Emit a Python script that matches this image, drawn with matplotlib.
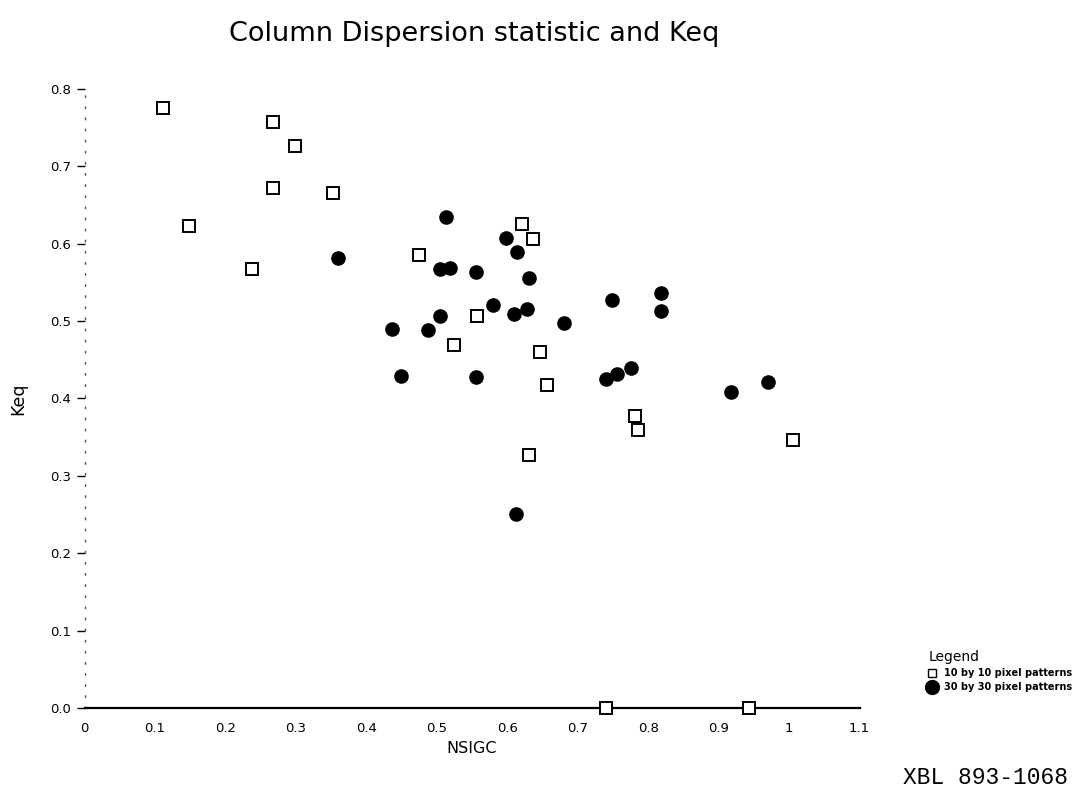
import matplotlib
matplotlib.use("Agg")
import matplotlib.pyplot as plt
from matplotlib.lines import Line2D

plt.rcParams['font.family'] = ['DejaVu Sans']

# === DATA ===
# 10 by 10 pixel patterns (hollow squares)
sq_x = [0.112, 0.268, 0.298, 0.268, 0.352, 0.148, 0.238, 0.474, 0.621, 0.636,
        0.557, 0.525, 0.647, 0.657, 0.781, 0.786, 0.631, 1.005, 0.740, 0.943]
sq_y = [0.775, 0.757, 0.726, 0.672, 0.665, 0.623, 0.567, 0.585, 0.625, 0.606,
        0.506, 0.469, 0.460, 0.417, 0.378, 0.359, 0.327, 0.346, 0.0, 0.0]

# 30 by 30 pixel patterns (filled circles)
dot_x = [0.359, 0.513, 0.598, 0.614, 0.631, 0.505, 0.519, 0.556, 0.579, 0.504,
         0.437, 0.487, 0.449, 0.555, 0.610, 0.628, 0.680, 0.748, 0.818, 0.818,
         0.740, 0.756, 0.776, 0.918, 0.970, 0.613]
dot_y = [0.581, 0.634, 0.607, 0.589, 0.556, 0.567, 0.568, 0.563, 0.521, 0.506,
         0.490, 0.488, 0.429, 0.428, 0.509, 0.515, 0.497, 0.527, 0.536, 0.513,
         0.425, 0.432, 0.440, 0.408, 0.421, 0.251]

x_ticks = [0, 0.1, 0.2, 0.3, 0.4, 0.5, 0.6, 0.7, 0.8, 0.9, 1.0, 1.1]
x_labels = ["0", "0.1", "0.2", "0.3", "0.4", "0.5", "0.6", "0.7", "0.8", "0.9", "1", "1.1"]
y_ticks = [0.0, 0.1, 0.2, 0.3, 0.4, 0.5, 0.6, 0.7, 0.8]
y_labels = ["0.0", "0.1", "0.2", "0.3", "0.4", "0.5", "0.6", "0.7", "0.8"]

# === PLOT ===
fig = plt.figure(figsize=(10.84, 7.93), dpi=100)
ax = fig.add_axes([0.078, 0.107, 0.715, 0.781])

ax.plot(sq_x, sq_y, linestyle="none", marker="s", markersize=9,
        markerfacecolor="white", markeredgecolor="black", markeredgewidth=1.4,
        clip_on=False, zorder=3)
ax.plot(dot_x, dot_y, linestyle="none", marker="o", markersize=9.5,
        color="black", clip_on=False, zorder=3)

ax.set_xlim(0, 1.1)
ax.set_ylim(0, 0.8)

ax.spines["top"].set_visible(False)
ax.spines["right"].set_visible(False)
ax.spines["left"].set_linestyle((0, (1, 7)))
ax.spines["left"].set_linewidth(1.0)
ax.spines["left"].set_color("#555555")
ax.spines["bottom"].set_linewidth(1.6)

ax.set_xticks(x_ticks)
ax.set_xticklabels(x_labels)
ax.set_yticks(y_ticks)
ax.set_yticklabels(y_labels)
ax.tick_params(axis="x", length=0, pad=10, labelsize=9.5)
ax.tick_params(axis="y", length=6, width=1, direction="out", pad=4, labelsize=9.5)

ax.set_xlabel("NSIGC", fontsize=11.5, labelpad=4)
ax.set_ylabel("Keq", fontsize=12.5, labelpad=16)

# title sits well above the plot
fig.text(0.437, 0.948, "Column Dispersion statistic and Keq", fontsize=19.5,
         ha="center", va="baseline")

# legend at lower right, outside the axes
handles = [
    Line2D([], [], linestyle="none", marker="s", markersize=6,
           markerfacecolor="white", markeredgecolor="black", markeredgewidth=1),
    Line2D([], [], linestyle="none", marker="o", markersize=10, color="black"),
]
leg = fig.legend(handles, ["10 by 10 pixel patterns", "30 by 30 pixel patterns"],
                 title="Legend", loc="upper left", bbox_to_anchor=(0.852, 0.187),
                 frameon=False, fontsize=7, handletextpad=0.8, handlelength=0.8,
                 labelspacing=0.45, borderpad=0)
for t in leg.get_texts():
    t.set_fontweight("bold")
leg.get_title().set_fontsize(10)
leg._legend_box.align = "left"

fig.text(0.985, 0.019, "XBL 893-1068", family="Liberation Mono", fontsize=16.5,
         ha="right", va="center")

fig.savefig("out.png", dpi=100, facecolor="white")
